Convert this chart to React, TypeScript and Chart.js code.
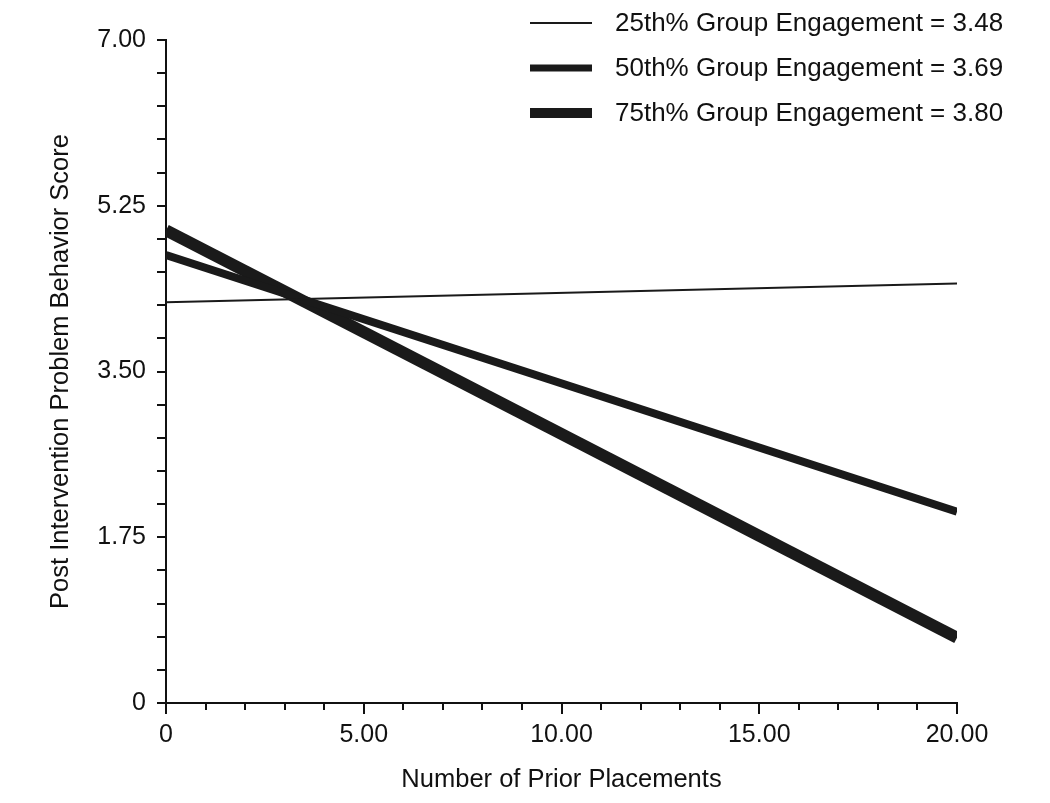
import React, { useEffect, useRef } from 'react';
import { Chart, registerables } from 'chart.js';

Chart.register(...registerables);

// ---- Data ----
const xValues = [0, 20];
const series25 = [4.23, 4.43];
const series50 = [4.73, 2.02];
const series75 = [4.99, 0.69];
const seriesLabels = [
  '25th% Group Engagement = 3.48',
  '50th% Group Engagement = 3.69',
  '75th% Group Engagement = 3.80',
];
const xAxisTitle = 'Number of Prior Placements';
const yAxisTitle = 'Post Intervention Problem Behavior Score';
const yMin = 0;
const yMax = 7;
const yStep = 0.35; // minor ticks; label every 5th (1.75)
const xMin = 0;
const xMax = 20;
const xStep = 1; // minor ticks; label every 5th
const xMajorTicks = [0, 5, 10, 15, 20];

// ---- Styles ----
const FONT = "'Liberation Sans', Arial, Helvetica, sans-serif";
const INK = '#111111';
const LINE_COLOR = '#1a1a1a';
const lineWidths = [2, 8, 12];
const legendWidths = [2, 7, 10];

const fmt = (v: number) => {
  const r = Math.round(v * 100) / 100;
  return r === 0 ? '0' : r.toFixed(2);
};

const legendPlugin = {
  id: 'customLegend',
  afterDraw(chart: any) {
    const ctx = chart.ctx as CanvasRenderingContext2D;
    const rows = [23, 68, 113];
    ctx.save();
    chart.data.datasets.forEach((ds: any, i: number) => {
      const y = rows[i];
      ctx.strokeStyle = ds.borderColor;
      ctx.lineWidth = legendWidths[i];
      ctx.lineCap = 'butt';
      ctx.beginPath();
      ctx.moveTo(530, y);
      ctx.lineTo(592, y);
      ctx.stroke();
      ctx.fillStyle = INK;
      ctx.font = `26px ${FONT}`;
      ctx.textBaseline = 'middle';
      ctx.textAlign = 'left';
      ctx.fillText(ds.label, 615, y + 1);
    });
    ctx.restore();
  },
};

// lengthen the major x ticks (labelled ones) a little, as in the original
const majorTickPlugin = {
  id: 'majorTicks',
  afterDraw(chart: any) {
    const ctx = chart.ctx as CanvasRenderingContext2D;
    const xs = chart.scales.x;
    const top = xs.top;
    ctx.save();
    ctx.strokeStyle = INK;
    ctx.lineWidth = 2;
    xMajorTicks.forEach((v) => {
      const px = Math.round(xs.getPixelForValue(v));
      ctx.beginPath();
      ctx.moveTo(px, top);
      ctx.lineTo(px, top + 11);
      ctx.stroke();
    });
    ctx.restore();
  },
};

const toPoints = (ys: number[]) => xValues.map((x, i) => ({ x, y: ys[i] }));

export default function App() {
  const canvasRef = useRef<HTMLCanvasElement | null>(null);

  useEffect(() => {
    if (!canvasRef.current) return;
    const LEFT_PAD = 0;
    const chart = new Chart(canvasRef.current, {
      type: 'line',
      data: {
        datasets: [series25, series50, series75].map((s, i) => ({
          label: seriesLabels[i],
          data: toPoints(s),
          borderColor: LINE_COLOR,
          backgroundColor: LINE_COLOR,
          borderWidth: lineWidths[i],
          borderCapStyle: 'butt' as const,
          pointRadius: 0,
          tension: 0,
          fill: false,
        })),
      },
      options: {
        responsive: false,
        animation: false,
        layout: { padding: { top: 40, right: 93, left: LEFT_PAD, bottom: 0 } },
        plugins: {
          legend: { display: false },
          tooltip: { enabled: false },
        },
        scales: {
          x: {
            type: 'linear',
            min: xMin,
            max: xMax,
            afterFit: (scale: any) => {
              scale.height = 100;
            },
            ticks: {
              stepSize: xStep,
              autoSkip: false,
              maxRotation: 0,
              color: INK,
              padding: 10,
              font: { family: FONT, size: 25 },
              callback: (value: any, index: number) => (index % 5 === 0 ? fmt(Number(value)) : ''),
            },
            grid: {
              display: true,
              drawOnChartArea: false,
              drawTicks: true,
              tickLength: 7,
              color: INK,
              lineWidth: 2,
            },
            border: { display: true, color: INK, width: 2 },
            title: {
              display: true,
              text: xAxisTitle,
              color: INK,
              font: { family: FONT, size: 25.5 },
              padding: { top: 0, bottom: 8 },
            },
          },
          y: {
            type: 'linear',
            min: yMin,
            max: yMax,
            afterFit: (scale: any) => {
              scale.width = 166 - LEFT_PAD;
            },
            ticks: {
              stepSize: yStep,
              autoSkip: false,
              color: INK,
              padding: 11,
              font: { family: FONT, size: 25 },
              callback: (value: any, index: number) => (index % 5 === 0 ? fmt(Number(value)) : ''),
            },
            grid: {
              display: true,
              drawOnChartArea: false,
              drawTicks: true,
              tickLength: 9,
              color: INK,
              lineWidth: 2,
            },
            border: { display: true, color: INK, width: 2 },
            title: {
              display: true,
              text: yAxisTitle,
              color: INK,
              font: { family: FONT, size: 25.5 },
              padding: { top: 46, bottom: 0 },
            },
          },
        },
      },
      plugins: [legendPlugin, majorTickPlugin],
    });
    return () => chart.destroy();
  }, []);

  return (
    <div style={{ position: 'absolute', left: 0, top: 0, width: 1050, height: 803, background: '#ffffff' }}>
      <canvas ref={canvasRef} width={1050} height={803} style={{ display: 'block' }} />
    </div>
  );
}
